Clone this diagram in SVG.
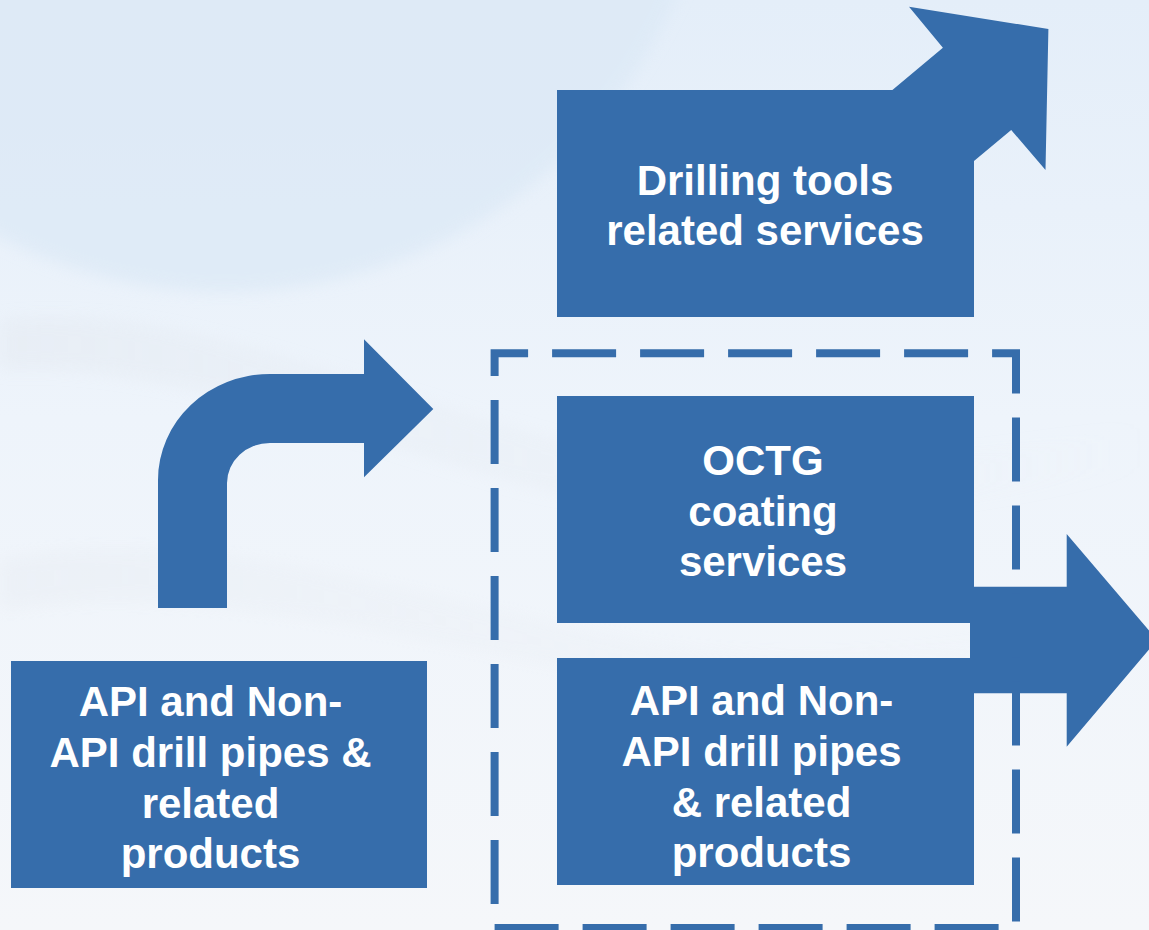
<svg xmlns="http://www.w3.org/2000/svg" width="1149" height="930" viewBox="0 0 1149 930">
  <defs>
    <linearGradient id="bgGrad" x1="0" y1="0" x2="0" y2="1">
      <stop offset="0" stop-color="#E4EEF9"/>
      <stop offset="0.45" stop-color="#EEF4FB"/>
      <stop offset="1" stop-color="#F5F7FA"/>
    </linearGradient>
    <linearGradient id="waveGrad" x1="0" y1="0" x2="1" y2="0">
      <stop offset="0" stop-color="#DEE3EA" stop-opacity="0.5"/>
      <stop offset="0.6" stop-color="#E2E7EE" stop-opacity="0.3"/>
      <stop offset="1" stop-color="#E6EAF0" stop-opacity="0"/>
    </linearGradient>
    <filter id="soft" x="-10%" y="-10%" width="120%" height="120%">
      <feGaussianBlur stdDeviation="8"/>
    </filter>
  </defs>
  <style>
    .shape { fill: #366DAB; }
    .label { fill: #FFFFFF; font-family: "Liberation Sans", Arial, sans-serif; font-weight: bold; font-size: 42px; text-anchor: middle; }
    .frame { fill: none; stroke: #366DAB; stroke-width: 8; stroke-dasharray: 64 24; stroke-dashoffset: 30.5; stroke-linejoin: miter; }
  </style>

  <!-- backdrop -->
  <g id="background">
    <rect x="0" y="0" width="1149" height="930" fill="url(#bgGrad)"/>
    <circle cx="225" cy="-200" r="492" fill="#DCE9F6" opacity="0.75" filter="url(#soft)"/>
    <path d="M0,320 C180,300 360,390 560,440 C740,480 900,470 1149,420 L1149,470 C900,520 730,530 540,490 C350,440 170,360 0,370 Z" fill="url(#waveGrad)" opacity="0.6" filter="url(#soft)"/>
    <path d="M0,560 C200,520 420,600 640,640 C820,670 980,640 1149,600 L1149,640 C960,690 800,710 620,680 C410,640 200,580 0,610 Z" fill="url(#waveGrad)" opacity="0.45" filter="url(#soft)"/>
  </g>

  <!-- arrows between nodes -->
  <g id="connectors">
    <path id="bent-arrow" class="shape" d="M158,608 V480 A112,106 0 0 1 270,374 H364 V339.3 L433.3,409 L364,477.3 V443 H270 A43,40 0 0 0 227,483 V608 Z"/>
    <polygon id="right-arrow" class="shape" points="970,586.7 1066.7,586.7 1066.7,534 1157,640 1066.7,746.7 1066.7,693.3 970,693.3"/>
  </g>

  <!-- dashed grouping frame -->
  <g id="group-frame">
    <path class="frame" d="M494.6,353.3 H1016 V928 H494.6 Z"/>
  </g>

  <g id="node-drilling-tools">
    <polygon class="shape" points="557,90 892.4,90 942.9,47.7 909,6.7 1048.4,29 1045.5,170 1011.2,130 974,161 974,317 557,317"/>
    <text class="label" x="765" y="195">Drilling tools</text>
    <text class="label" x="765" y="245">related services</text>
  </g>

  <g id="node-octg">
    <rect class="shape" x="557" y="396" width="417" height="227"/>
    <text class="label" x="763" y="475">OCTG</text>
    <text class="label" x="763" y="525.5">coating</text>
    <text class="label" x="763" y="576">services</text>
  </g>

  <g id="node-pipes-right">
    <rect class="shape" x="557" y="658" width="417" height="227"/>
    <text class="label" x="761.5" y="715">API and Non-</text>
    <text class="label" x="761.5" y="766">API drill pipes</text>
    <text class="label" x="761.5" y="816.5">&amp; related</text>
    <text class="label" x="761.5" y="866.5">products</text>
  </g>

  <g id="node-pipes-left">
    <rect class="shape" x="11" y="661" width="416" height="227"/>
    <text class="label" x="210.5" y="716">API and Non-</text>
    <text class="label" x="210.5" y="767">API drill pipes &amp;</text>
    <text class="label" x="210.5" y="817.5">related</text>
    <text class="label" x="210.5" y="868">products</text>
  </g>
</svg>
